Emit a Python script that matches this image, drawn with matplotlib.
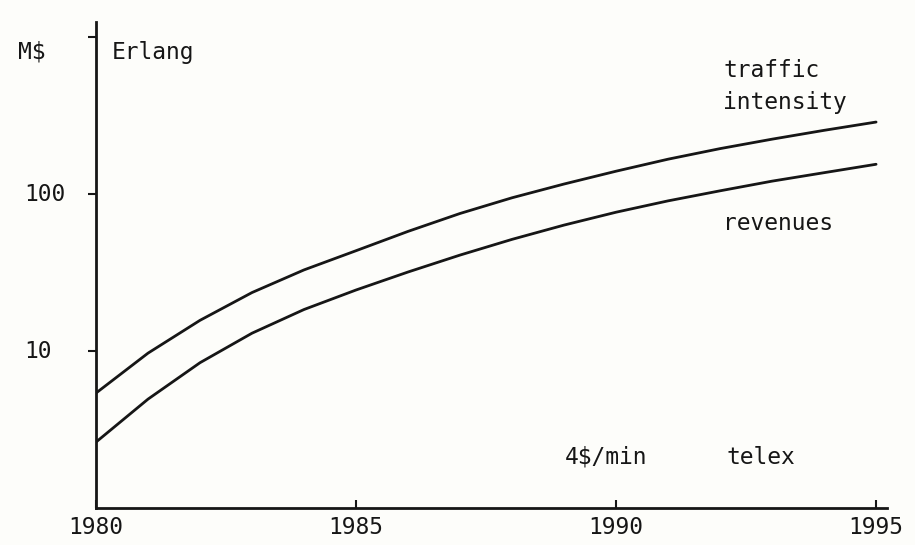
import matplotlib
matplotlib.use("Agg")
import matplotlib.pyplot as plt
import matplotlib.transforms as mtransforms
from matplotlib.ticker import NullLocator

# ---- data ----
years = [1980, 1981, 1982, 1983, 1984, 1985, 1986, 1987,
         1988, 1989, 1990, 1991, 1992, 1993, 1994, 1995]
traffic_intensity = [5.40, 9.70, 15.7, 23.6, 32.9, 43.6, 57.9, 75.3,
                     94.8, 116, 140, 167, 195, 224, 255, 288]
revenues = [2.63, 4.94, 8.43, 13.0, 18.4, 24.5, 31.9, 40.9,
            51.5, 63.5, 76.7, 90.6, 105, 121, 137, 155]
xtick_values = [1980, 1985, 1990, 1995]
xtick_labels = ["1980", "1985", "1990", "1995"]
ytick_values = [10, 100, 1000]
ytick_labels = ["10", "100", ""]

FONT = "DejaVu Sans Mono"
FS = 16.5
INK = "#161616"
BG = "#fdfdfa"

fig = plt.figure(figsize=(9.15, 5.45), dpi=100, facecolor=BG)
ax = fig.add_axes([96 / 915, 37 / 545, 791 / 915, 486 / 545], facecolor=BG)

ax.plot(years, traffic_intensity, color=INK, lw=2.0, solid_capstyle="round")
ax.plot(years, revenues, color=INK, lw=2.0, solid_capstyle="round")

ax.set_yscale("log")
ax.set_xlim(1980, 1995.21)
ax.set_ylim(1, 1250)

for s in ("top", "right"):
    ax.spines[s].set_visible(False)
for s in ("left", "bottom"):
    ax.spines[s].set_linewidth(2.0)
    ax.spines[s].set_color(INK)

ax.yaxis.set_minor_locator(NullLocator())
ax.set_yticks(ytick_values)
ax.set_yticklabels([])
ax.tick_params(axis="y", direction="out", length=6, width=1.5, color=INK)

ax.set_xticks(xtick_values)
ax.set_xticklabels(xtick_labels, fontfamily=FONT, fontsize=FS, color=INK)
ax.tick_params(axis="x", direction="in", length=6, width=1.5, color=INK, pad=6)

# y tick labels, left aligned as in the reference
trans = mtransforms.blended_transform_factory(ax.transAxes, ax.transData)
for v, lab in zip(ytick_values, ytick_labels):
    if lab:
        ax.text(-0.091, v, lab, transform=trans, ha="left", va="center",
                fontfamily=FONT, fontsize=FS, color=INK)

ax.text(-0.099, 802, "M\\$", transform=trans, ha="left", va="center",
        fontfamily=FONT, fontsize=FS, color=INK, clip_on=False)
ax.text(1980.31, 802, "Erlang", ha="left", va="center",
        fontfamily=FONT, fontsize=FS, color=INK)

ax.text(1992.06, 617, "traffic", ha="left", va="center",
        fontfamily=FONT, fontsize=FS, color=INK)
ax.text(1992.06, 385, "intensity", ha="left", va="center",
        fontfamily=FONT, fontsize=FS, color=INK)
ax.text(1992.06, 65, "revenues", ha="left", va="center",
        fontfamily=FONT, fontsize=FS, color=INK)
ax.text(1989.02, 2.11, "4\\$/min", ha="left", va="center",
        fontfamily=FONT, fontsize=FS, color=INK)
ax.text(1992.13, 2.11, "telex", ha="left", va="center",
        fontfamily=FONT, fontsize=FS, color=INK)

fig.savefig("out.png", dpi=100, facecolor=BG)
